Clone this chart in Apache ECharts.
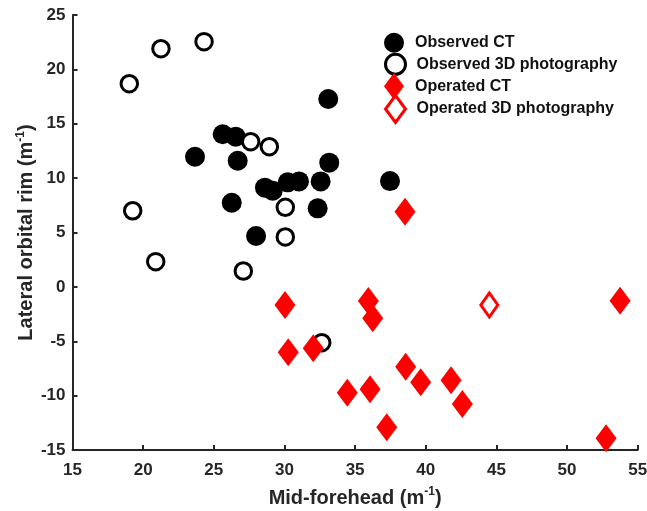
<!DOCTYPE html>
<html>
<head>
<meta charset="utf-8">
<script src="https://cdn.jsdelivr.net/npm/echarts@6/dist/echarts.min.js"></script>
<style>
  html, body { margin: 0; padding: 0; background: #fff; }
  #main { width: 647px; height: 511px; }
</style>
</head>
<body>
<div id="main"></div>
<script>
// values: [mid-forehead, lateral orbital rim]
var observedCT = [
    [23.67, 11.97], [25.63, 14.03], [26.55, 13.81], [26.69, 11.6],
    [33.1, 17.28], [33.17, 11.42], [26.27, 7.74], [28.62, 9.12],
    [29.17, 8.85], [30.23, 9.61], [31.03, 9.7], [32.56, 9.7],
    [32.35, 7.22], [27.99, 4.68], [37.47, 9.73]
];
var observed3D = [
    [19.02, 18.68], [21.26, 21.9], [24.31, 22.55], [27.61, 13.35],
    [28.93, 12.89], [19.26, 7.0], [30.06, 7.32], [30.06, 4.59],
    [20.89, 2.32], [27.09, 1.46], [32.64, -5.13]
];
var operatedCT = [
    [38.53, 6.91], [30.04, -1.67], [30.27, -6.02], [32.04, -5.65],
    [34.45, -9.73], [35.94, -1.3], [36.25, -2.89], [36.06, -9.42],
    [37.24, -12.91], [38.58, -7.34], [39.64, -8.78], [41.79, -8.59],
    [42.59, -10.77], [53.75, -1.27], [52.76, -13.93]
];
var operated3D = [
    [44.5, -1.67]
];
var seriesNames = ['Observed CT', 'Observed 3D photography', 'Operated CT', 'Operated 3D photography'];

var font = 'Liberation Sans, Arial, sans-serif';
var axisColor = '#262626';
// tall diamond for the legend, same shape as the box it is drawn in
var tallDiamond = 'path://M10,0L20,13.5L10,27L0,13.5Z';

var legendIcons = [
    {icon: 'circle', itemStyle: {color: '#000', borderWidth: 0}},
    {icon: 'circle', itemStyle: {color: '#fff', borderColor: '#000', borderWidth: 3}},
    {icon: tallDiamond, itemStyle: {color: '#ff0000', borderWidth: 0}},
    {icon: tallDiamond, itemStyle: {color: '#fff', borderColor: '#ff0000', borderWidth: 3}}
];
var legendTops = [32.7, 52.8, 72.7, 94];

// one legend per row so each row sits where it does in the picture
var legends = seriesNames.map(function (name, i) {
    return {
        orient: 'vertical',
        left: 384,
        top: legendTops[i],
        padding: 0,
        itemWidth: 20,
        itemHeight: 27,
        symbolKeepAspect: true,
        textStyle: {
            fontFamily: font,
            fontWeight: 'bold',
            fontSize: 16,
            color: '#111',
            padding: [0, 0, 0, 6]
        },
        data: [{name: name, icon: legendIcons[i].icon, itemStyle: legendIcons[i].itemStyle}]
    };
});

var myChart = echarts.init(document.getElementById('main'));

var nameRich = {
    n: {fontFamily: font, fontWeight: 'bold', fontSize: 20, color: axisColor, lineHeight: 24},
    s: {fontFamily: font, fontWeight: 'bold', fontSize: 12, color: axisColor, verticalAlign: 'top', lineHeight: 14}
};

var option = {
    backgroundColor: '#fff',
    animation: false,
    grid: {
        left: 72.5,
        right: 9.3,
        top: 15,
        bottom: 61,
        containLabel: false,
        outerBoundsMode: 'none'
    },
    legend: legends,
    xAxis: {
        type: 'value',
        min: 15,
        max: 55,
        interval: 5,
        name: '{n|Mid-forehead (m}{s|-1}{n|)}',
        nameLocation: 'middle',
        nameGap: 36,
        nameMoveOverlap: false,
        nameTextStyle: {rich: nameRich},
        axisLine: {show: true, onZero: false, lineStyle: {color: axisColor, width: 2}},
        axisTick: {show: true, inside: true, length: 5, lineStyle: {color: axisColor, width: 2}},
        axisLabel: {fontFamily: font, fontWeight: 'bold', fontSize: 17, color: axisColor, margin: 12},
        splitLine: {show: false}
    },
    yAxis: {
        type: 'value',
        min: -15,
        max: 25,
        interval: 5,
        name: '{n|Lateral orbital rim (m}{s|-1}{n|)}',
        nameLocation: 'middle',
        nameGap: 34,
        nameMoveOverlap: false,
        nameTextStyle: {rich: nameRich},
        axisLine: {show: true, onZero: false, lineStyle: {color: axisColor, width: 2}},
        axisTick: {show: true, inside: true, length: 5, lineStyle: {color: axisColor, width: 2}},
        axisLabel: {fontFamily: font, fontWeight: 'bold', fontSize: 17, color: axisColor, margin: 7},
        splitLine: {show: false}
    },
    series: [
        {
            name: seriesNames[0],
            type: 'scatter',
            symbol: 'circle',
            symbolSize: 20,
            itemStyle: {color: '#000', opacity: 1},
            data: observedCT
        },
        {
            name: seriesNames[1],
            type: 'scatter',
            symbol: 'circle',
            symbolSize: 16.5,
            itemStyle: {color: '#fff', borderColor: '#000', borderWidth: 3, opacity: 1},
            data: observed3D
        },
        {
            name: seriesNames[2],
            type: 'scatter',
            symbol: 'diamond',
            symbolSize: [21, 28],
            itemStyle: {color: '#ff0000', opacity: 1},
            data: operatedCT
        },
        {
            name: seriesNames[3],
            type: 'scatter',
            symbol: 'diamond',
            symbolSize: [17, 24],
            itemStyle: {color: '#fff', borderColor: '#ff0000', borderWidth: 3, opacity: 1},
            data: operated3D
        }
    ]
};

myChart.setOption(option);
</script>
</body>
</html>
